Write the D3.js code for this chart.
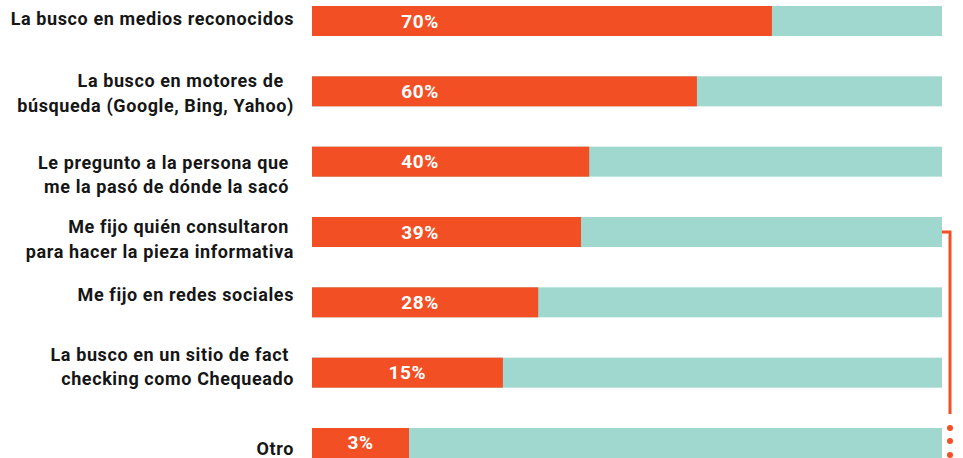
<!DOCTYPE html>
<html>
<head>
<meta charset="utf-8">
<script src="https://cdn.jsdelivr.net/npm/d3@7"></script>
<style>
  html, body { margin: 0; padding: 0; background: #fff; }
  svg { display: block; }
  text { font-family: Roboto, "Noto Sans", sans-serif; font-weight: 700; }
</style>
</head>
<body>
<svg id="chart" width="963" height="458"></svg>
<script>
// answers, top to bottom (each entry = lines of the label)
const labelLines = [
  ["La busco en medios reconocidos"],
  ["La busco en motores de  ", "búsqueda (Google, Bing, Yahoo)"],
  ["Le pregunto a la persona que ", "me la pasó de dónde la sacó "],
  ["Me fijo quién consultaron ", "para hacer la pieza informativa"],
  ["Me fijo en redes sociales"],
  ["La busco en un sitio de fact ", "checking como Chequeado"],
  ["Otro"]
];
// printed percentages
const values = [70, 60, 40, 39, 28, 15, 3];
// share of the bar track painted orange in the original graphic (not proportional to the values)
const drawnShare = [73, 61.1, 44, 42.7, 35.9, 30.3, 15.4];

// layout
const width = 963, height = 458;
const trackLeft = 312, trackRight = 942;
const labelRight = 294;
const labelShift = [4, -4, 7, 1, -1, -12, 12]; // baseline offset of the first label line from bar centre
const lineHeight = 24.5;
const orange = "#F24F24", teal = "#A0D8CF";

const rows = labelLines.map((lines, i) => ({ key: i, lines, value: values[i], share: drawnShare[i] }));

const x = d3.scaleLinear().domain([0, 100]).range([trackLeft, trackRight]);
const y = d3.scaleBand()
  .domain(rows.map(d => d.key))
  .range([6, 458])
  .paddingInner(0.5734)
  .paddingOuter(0);

const svg = d3.select("#chart");

const row = svg.append("g")
  .selectAll("g")
  .data(rows)
  .join("g");

// teal remainder
row.append("rect")
  .attr("x", x(0))
  .attr("y", d => y(d.key))
  .attr("width", x(100) - x(0))
  .attr("height", y.bandwidth())
  .attr("fill", teal);

// orange part
row.append("rect")
  .attr("x", x(0))
  .attr("y", d => y(d.key))
  .attr("width", d => x(d.share) - x(0))
  .attr("height", y.bandwidth())
  .attr("fill", orange);

// percentage labels
row.append("text")
  .attr("x", d => Math.min(420, (x(0) + x(d.share)) / 2))
  .attr("y", d => y(d.key) + y.bandwidth() / 2 + 6.5)
  .attr("text-anchor", "middle")
  .attr("fill", "#fff")
  .attr("font-size", 19)
  .attr("letter-spacing", 0.6)
  .text(d => d.value + "%");

// category labels
row.append("text")
  .attr("text-anchor", "end")
  .attr("fill", "#161616")
  .attr("font-size", 18)
  .attr("letter-spacing", 0.6)
  .style("white-space", "pre")
  .selectAll("tspan")
  .data((d, i) => d.lines.map((t, j) => ({ t, j, i, key: d.key })))
  .join("tspan")
  .attr("x", labelRight)
  .attr("y", d => y(d.key) + y.bandwidth() / 2 + labelShift[d.i] + d.j * lineHeight)
  .text(d => d.t);

// bracket from the 4th bar down towards "Otro"
const yTop = y(3) + y.bandwidth() / 2;
const yBottom = y(6) + y.bandwidth() / 2;
const bx = 950;
svg.append("path")
  .attr("d", `M${x(100)},${yTop}H${bx}V${yBottom - 29}`)
  .attr("fill", "none")
  .attr("stroke", orange)
  .attr("stroke-width", 3);

svg.append("g")
  .selectAll("circle")
  .data([-15, -2, 12])
  .join("circle")
  .attr("cx", bx)
  .attr("cy", d => yBottom + d)
  .attr("r", 3)
  .attr("fill", orange);
</script>
</body>
</html>
